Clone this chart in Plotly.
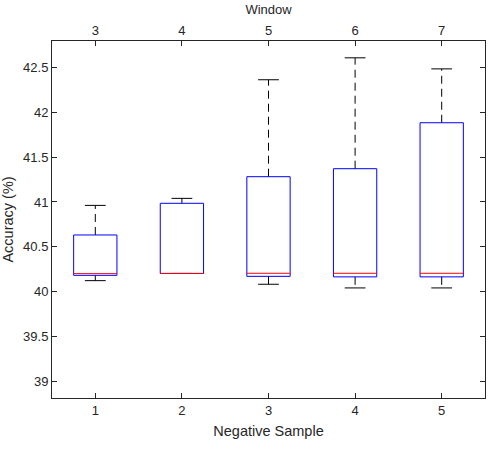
"""Box plot of accuracy vs negative sample / window size."""
import plotly.graph_objects as go

# data
negative_sample = [1, 2, 3, 4, 5]
window = [3, 4, 5, 6, 7]
q1 = [40.184, 40.205, 40.173, 40.167, 40.167]
median = [40.203, 40.205, 40.207, 40.207, 40.207]
q3 = [40.633, 40.985, 41.281, 41.370, 41.881]
lower = [40.125, 40.205, 40.085, 40.044, 40.044]
upper = [40.962, 41.040, 42.359, 42.603, 42.480]

y_ticks = [39, 39.5, 40, 40.5, 41, 41.5, 42, 42.5]

BOX_HALF = 0.25
CAP_HALF = 0.12
FONT = "Liberation Sans, Arial, sans-serif"
TEXT = "#262626"


def segments(pairs):
    """Flatten a list of (xs, ys) polylines into one trace with gaps."""
    xs, ys = [], []
    for px_, py_ in pairs:
        xs += list(px_) + [None]
        ys += list(py_) + [None]
    return xs, ys


whisk = []
caps = []
boxes = []
meds = []
for g, a, m, b, lo, hi in zip(negative_sample, q1, median, q3, lower, upper):
    whisk.append(([g, g], [b, hi]))
    whisk.append(([g, g], [a, lo]))
    caps.append(([g - CAP_HALF, g + CAP_HALF], [hi, hi]))
    caps.append(([g - CAP_HALF, g + CAP_HALF], [lo, lo]))
    boxes.append(([g - BOX_HALF, g + BOX_HALF, g + BOX_HALF, g - BOX_HALF, g - BOX_HALF],
                  [a, a, b, b, a]))
    meds.append(([g - BOX_HALF, g + BOX_HALF], [m, m]))

fig = go.Figure()

x, y = segments(whisk)
fig.add_trace(go.Scatter(x=x, y=y, mode="lines", line=dict(color="black", width=1, dash="8px,5px"),
                         hoverinfo="skip", showlegend=False))
x, y = segments(caps)
fig.add_trace(go.Scatter(x=x, y=y, mode="lines", line=dict(color="black", width=1),
                         hoverinfo="skip", showlegend=False))
x, y = segments(boxes)
fig.add_trace(go.Scatter(x=x, y=y, mode="lines", line=dict(color="#0000ff", width=1),
                         hoverinfo="skip", showlegend=False))
x, y = segments(meds)
fig.add_trace(go.Scatter(x=x, y=y, mode="lines", line=dict(color="#ff0000", width=1),
                         hoverinfo="skip", showlegend=False))

# invisible trace so the top (Window) axis gets drawn
fig.add_trace(go.Scatter(x=negative_sample, y=median, xaxis="x2", mode="markers",
                         marker=dict(opacity=0), hoverinfo="skip", showlegend=False))

axis_common = dict(
    showgrid=False, zeroline=False, showline=True, linecolor=TEXT, linewidth=1,
    ticks="inside", ticklen=5, tickcolor=TEXT, automargin=False,
    tickfont=dict(size=13, color=TEXT, family=FONT),
)

fig.update_layout(
    width=495, height=451,
    margin=dict(l=52, r=10, t=41, b=53),
    plot_bgcolor="white", paper_bgcolor="white",
    font=dict(family=FONT, color=TEXT),
    xaxis=dict(
        **axis_common, range=[0.5, 5.5], tickvals=negative_sample,
        title=dict(text="Negative Sample", font=dict(size=14.5, color=TEXT), standoff=9),
    ),
    xaxis2=dict(
        **axis_common, range=[0.5, 5.5], overlaying="x", side="top",
        tickvals=negative_sample, ticktext=[str(w) for w in window],
        title=dict(text="Window", font=dict(size=13, color=TEXT), standoff=5),
    ),
    yaxis=dict(
        **axis_common, range=[38.82, 42.79], tickvals=y_ticks, mirror="ticks",
        ticktext=[f"{v:g}" for v in y_ticks],
        title=dict(text="Accuracy (%)", font=dict(size=14.5, color=TEXT), standoff=6),
    ),
)

# drop the default page margin so the figure sits at the window's corner
fig.write_html("out.html", config={"displayModeBar": False},
               post_script="document.body.style.margin='0';")
